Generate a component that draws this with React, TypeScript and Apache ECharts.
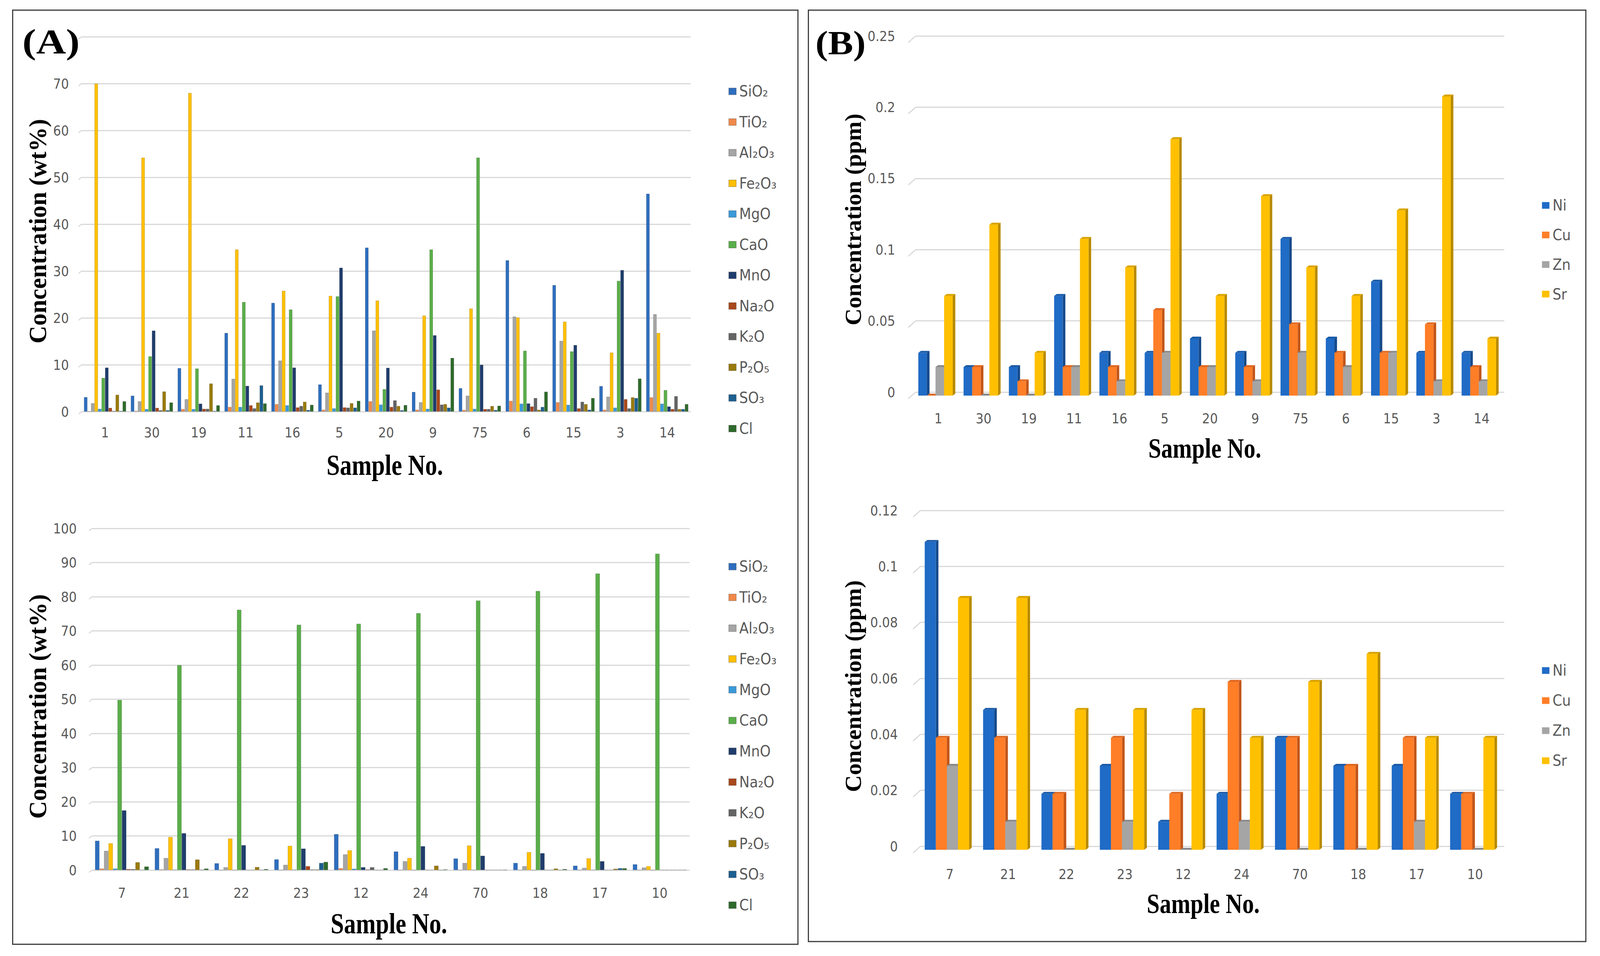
// Oxide (wt%) and trace element (ppm) concentrations per sample, four panels

import { useEffect, useRef } from 'react';
import * as echarts from 'echarts';

const SANS = "'Liberation Sans Narrow', 'DejaVu Sans Condensed', 'Open Sans', sans-serif";
const SERIF = "'Liberation Serif', 'DejaVu Serif', serif";

// ---- panel A, upper chart ----
const samplesA1 = ['1', '30', '19', '11', '16', '5', '20', '9', '75', '6', '15', '3', '14'];
const a1SiO2 = [3.1, 3.4, 9.3, 16.8, 23.2, 5.8, 35.0, 4.2, 5.0, 32.3, 27.0, 5.45, 46.5];
const a1TiO2 = [0.1, 0.15, 0.55, 1.0, 1.6, 0.4, 2.2, 0.4, 0.35, 2.3, 2.0, 0.4, 3.05];
const a1Al2O3 = [1.8, 2.2, 2.65, 7.0, 10.9, 4.05, 17.3, 2.0, 3.4, 20.3, 15.1, 3.2, 20.8];
const a1Fe2O3 = [70, 54.2, 68, 34.6, 25.8, 24.7, 23.7, 20.5, 22.0, 20.1, 19.2, 12.6, 16.8];
const a1MgO = [0.6, 0.55, 0.55, 1.0, 1.35, 0.7, 1.5, 0.6, 0.6, 1.7, 1.45, 0.85, 1.7];
const a1CaO = [7.2, 11.8, 9.2, 23.4, 21.8, 24.6, 4.8, 34.6, 54.2, 13.0, 12.85, 27.9, 4.6];
const a1MnO = [9.4, 17.3, 1.7, 5.5, 9.4, 30.7, 9.35, 16.3, 10.0, 1.75, 14.2, 30.2, 1.1];
const a1Na2O = [0.8, 0.8, 0.6, 1.35, 0.9, 0.9, 1.0, 4.7, 0.55, 1.1, 0.7, 2.65, 0.55];
const a1K2O = [0.15, 0.3, 0.6, 0.7, 1.2, 0.85, 2.4, 1.5, 0.55, 2.9, 2.1, 0.7, 3.3];
const a1P2O5 = [3.6, 4.3, 6.0, 1.95, 2.1, 1.8, 1.2, 1.6, 1.2, 0.4, 1.6, 3.05, 0.55];
const a1SO3 = [0.15, 0.3, 0.15, 5.6, 0.35, 0.85, 0.3, 0.85, 0.35, 1.0, 0.4, 2.9, 0.55];
const a1Cl = [2.2, 1.95, 1.35, 1.75, 1.45, 2.3, 1.4, 11.45, 1.25, 4.25, 2.9, 7.05, 1.6];

// ---- panel A, lower chart ----
const samplesA2 = ['7', '21', '22', '23', '12', '24', '70', '18', '17', '10'];
const a2SiO2 = [8.6, 6.4, 2.0, 3.15, 10.55, 5.45, 3.4, 2.1, 1.3, 1.7];
const a2TiO2 = [0.45, 0.2, 0.05, 0.05, 0.55, 0.05, 0.05, 0.05, 0.05, 0.05];
const a2Al2O3 = [5.65, 3.55, 0.85, 1.55, 4.6, 2.6, 2.1, 1.15, 0.65, 0.75];
const a2Fe2O3 = [7.85, 9.7, 9.25, 7.1, 5.8, 3.55, 7.2, 5.25, 3.45, 1.15];
const a2MgO = [0.45, 0.15, 0.05, 0.15, 0.4, 0.05, 0.05, 0.05, 0.05, 0.05];
const a2CaO = [49.8, 60, 76.2, 71.8, 72.1, 75.2, 78.9, 81.7, 86.8, 92.6];
const a2MnO = [17.5, 10.8, 7.3, 6.3, 0.85, 7.0, 4.2, 4.95, 2.6, 0.1];
const a2Na2O = [0.3, 0.2, 0.1, 1.15, 0.2, 0.1, 0.1, 0.1, 0.1, 0.1];
const a2K2O = [0.3, 0.2, 0.1, 0.2, 0.85, 0.1, 0.1, 0.1, 0.1, 0.1];
const a2P2O5 = [2.3, 3.1, 0.9, 0.2, 0.1, 1.3, 0.1, 0.45, 0.4, 0.1];
const a2SO3 = [0.1, 0.15, 0.05, 2.1, 0.1, 0.05, 0.1, 0.05, 0.55, 0.1];
const a2Cl = [1.05, 0.45, 0.3, 2.4, 0.55, 0.2, 0.15, 0.3, 0.55, 0.1];

// ---- panel B ----
const b1Ni = [0.03, 0.02, 0.02, 0.07, 0.03, 0.03, 0.04, 0.03, 0.11, 0.04, 0.08, 0.03, 0.03];
const b1Cu = [0, 0.02, 0.01, 0.02, 0.02, 0.06, 0.02, 0.02, 0.05, 0.03, 0.03, 0.05, 0.02];
const b1Zn = [0.02, 0, 0, 0.02, 0.01, 0.03, 0.02, 0.01, 0.03, 0.02, 0.03, 0.01, 0.01];
const b1Sr = [0.07, 0.12, 0.03, 0.11, 0.09, 0.18, 0.07, 0.14, 0.09, 0.07, 0.13, 0.21, 0.04];

const b2Ni = [0.11, 0.05, 0.02, 0.03, 0.01, 0.02, 0.04, 0.03, 0.03, 0.02];
const b2Cu = [0.04, 0.04, 0.02, 0.04, 0.02, 0.06, 0.04, 0.03, 0.04, 0.02];
const b2Zn = [0.03, 0.01, 0, 0.01, 0, 0.01, 0, 0, 0.01, 0];
const b2Sr = [0.09, 0.09, 0.05, 0.05, 0.05, 0.04, 0.06, 0.07, 0.04, 0.04];

// y ticks (for the slanted wall edges)
const ticksA1 = [0, 10, 20, 30, 40, 50, 60, 70, 80];
const ticksA2 = [0, 10, 20, 30, 40, 50, 60, 70, 80, 90, 100];
const ticksB1 = [0, 0.05, 0.1, 0.15, 0.2, 0.25];
const ticksB2 = [0, 0.02, 0.04, 0.06, 0.08, 0.1, 0.12];

const oxides = ['SiO₂', 'TiO₂', 'Al₂O₃', 'Fe₂O₃', 'MgO', 'CaO', 'MnO', 'Na₂O', 'K₂O', 'P₂O₅', 'SO₃', 'Cl'];
const oxideColors = ['#2E6EBE', '#F08A4B', '#A5A5A5', '#FFC000', '#3A9AD9', '#5AAE49',
    '#1F3D6C', '#A9481C', '#646464', '#9A7A0C', '#1D5F8F', '#2F6A2C'];
const elements = ['Ni', 'Cu', 'Zn', 'Sr'];
const elementFace = ['#1F6BC6', '#FF7E27', '#A5A5A5', '#FFC000'];
const elementSide = ['#164A8A', '#C25519', '#6E6E6E', '#B88A00'];
const elementTop = ['#1B5BA8', '#E06A22', '#8A8A8A', '#D9A300'];

const upperA = [a1SiO2, a1TiO2, a1Al2O3, a1Fe2O3, a1MgO, a1CaO, a1MnO, a1Na2O, a1K2O, a1P2O5, a1SO3, a1Cl];
const lowerA = [a2SiO2, a2TiO2, a2Al2O3, a2Fe2O3, a2MgO, a2CaO, a2MnO, a2Na2O, a2K2O, a2P2O5, a2SO3, a2Cl];
const upperB = [b1Ni, b1Cu, b1Zn, b1Sr];
const lowerB = [b2Ni, b2Cu, b2Zn, b2Sr];

// layout was measured on a 4295 x 2448 page
const REF_W = 4295;
const REF_H = 2448;

export default function App() {
    const chartRef = useRef<HTMLDivElement>(null);

    useEffect(() => {
        if (!chartRef.current) return;
        document.body.style.margin = '0';
        document.body.style.overflow = 'hidden';

        const el = chartRef.current;
        const W = el.clientWidth || REF_W;
        const H = el.clientHeight || REF_H;
        const sx = W / REF_W;
        const sy = H / REF_H;
        const s = Math.min(sx, sy);
        const X = (v: number) => v * sx;
        const Y = (v: number) => v * sy;
        const F = (v: number) => v * s;

        const chart = echarts.init(el, null, { renderer: 'svg' });

        const tickLabel = { fontSize: F(37), color: '#595959', fontFamily: SANS };

        // excel-like 3D column: front face, right side and top
        const column3D = (k: number, count: number, frac: number) => (params: any, api: any) => {
            const ci = api.value(0);
            const v = api.value(1);
            const p0 = api.coord([ci, 0]);
            const p1 = api.coord([ci, v]);
            const band = api.size([1, 0])[0];
            const w = band * frac;
            const dx = X(7);
            const dy = Y(5);
            const drop = Y(9);
            const x0 = p0[0] - (count * w + dx) / 2 + k * w - X(4);
            const yb = p0[1] + drop;
            const yt = p1[1] + drop;
            return {
                type: 'group',
                children: [
                    {
                        type: 'polygon',
                        shape: { points: [[x0 + w, yt], [x0 + w + dx, yt - dy], [x0 + w + dx, yb - dy], [x0 + w, yb]] },
                        style: { fill: elementSide[k] },
                    },
                    {
                        type: 'polygon',
                        shape: { points: [[x0, yt], [x0 + dx, yt - dy], [x0 + w + dx, yt - dy], [x0 + w, yt]] },
                        style: { fill: elementTop[k] },
                    },
                    {
                        type: 'rect',
                        shape: { x: x0, y: yt, width: w, height: yb - yt },
                        style: { fill: elementFace[k] },
                    },
                ],
            };
        };

        // short slanted segment at the left end of each gridline
        const wallEdges = (grid: number, ticks: number[], dx: number, dy: number) => ({
            type: 'custom',
            name: 'wall' + grid,
            xAxisIndex: grid,
            yAxisIndex: grid,
            silent: true,
            encode: { x: 0, y: 1 },
            data: ticks.map((t) => [0, t]),
            renderItem: (params: any, api: any) => {
                const p = api.coord([0, api.value(1)]);
                const x = p[0] - api.size([1, 0])[0] / 2;
                return {
                    type: 'line',
                    shape: { x1: x, y1: p[1], x2: x - X(dx), y2: p[1] + Y(dy) },
                    style: { stroke: '#D9D9D9', lineWidth: F(3) },
                };
            },
        });

        const legendAt = (left: number, top: number, pitch: number, names: string[]) => ({
            orient: 'vertical',
            left: X(left),
            top: Y(top),
            icon: 'rect',
            itemWidth: F(20),
            itemHeight: F(18),
            itemGap: Y(pitch) - F(44),
            selectedMode: false,
            data: names,
            textStyle: { fontSize: F(41), lineHeight: F(44), color: '#595959', fontFamily: SANS, padding: [0, 0, 0, F(3)] },
        });

        const titleText = (x: number, y: number, text: string, size: number, opts: any = {}) => ({
            type: 'text',
            x: X(x),
            y: Y(y),
            rotation: opts.vertical ? Math.PI / 2 : 0,
            scaleX: opts.scaleX || 1,
            scaleY: opts.scaleY || 1,
            style: {
                text,
                fontSize: F(size),
                fontWeight: 'bold',
                fontFamily: SERIF,
                fill: '#000',
                align: opts.align || 'center',
                verticalAlign: 'middle',
            },
        });

        const catAxis = (grid: number, data: string[], margin: number) => ({
            type: 'category',
            gridIndex: grid,
            data,
            axisLine: { show: false },
            axisTick: { show: false },
            axisLabel: { ...tickLabel, margin: Y(margin) },
        });
        const valAxis = (grid: number, max: number, interval: number, margin: number, extra: any = {}) => ({
            type: 'value',
            gridIndex: grid,
            min: 0,
            max,
            interval,
            axisLine: { show: false },
            axisTick: { show: false },
            splitLine: { lineStyle: { color: '#D9D9D9', width: F(3) } },
            axisLabel: { ...tickLabel, margin: X(margin), ...extra },
        });

        const barSeries = (grid: number, values: number[][]) =>
            values.map((data, k) => ({
                type: 'bar',
                name: oxides[k],
                xAxisIndex: grid,
                yAxisIndex: grid,
                data,
                barGap: '0%',
                barCategoryGap: '10%',
                itemStyle: { color: oxideColors[k], borderColor: 'rgba(0,0,0,0.22)', borderWidth: 1 },
            }));

        const columnSeries = (grid: number, values: number[][]) =>
            values.map((vals, k) => ({
                type: 'custom',
                name: elements[k],
                xAxisIndex: grid,
                yAxisIndex: grid,
                itemStyle: { color: elementFace[k] },
                encode: { x: 0, y: 1 },
                data: vals.map((v, i) => [i, v]),
                renderItem: column3D(k, values.length, 0.19),
            }));

        const box = (x: number, y: number, w: number, h: number) => ({
            type: 'rect',
            shape: { x: X(x), y: Y(y), width: X(w), height: Y(h) },
            style: { fill: 'none', stroke: '#3a3a3a', lineWidth: F(3) },
        });

        const option: any = {
            animation: false,
            backgroundColor: '#ffffff',
            grid: [
                { left: X(219), top: Y(94), width: X(1635), height: Y(960) },
                { left: X(247), top: Y(1353), width: X(1604), height: Y(875) },
                { left: X(2458), top: Y(92), width: X(1580), height: Y(912) },
                { left: X(2471), top: Y(1307), width: X(1567), height: Y(860) },
            ],
            xAxis: [
                catAxis(0, samplesA1, 36),
                catAxis(1, samplesA2, 41),
                catAxis(2, samplesA1, 50),
                catAxis(3, samplesA2, 54),
            ],
            yAxis: [
                valAxis(0, 80, 10, 34, { showMaxLabel: false }),
                valAxis(1, 100, 10, 41),
                valAxis(2, 0.25, 0.05, 55, { padding: [Y(30), 0, 0, 0] }),
                valAxis(3, 0.12, 0.02, 61, { padding: [Y(38), 0, 0, 0] }),
            ],
            legend: [
                legendAt(1950, 208, 78.5, oxides),
                legendAt(1950, 1425, 78.8, oxides),
                legendAt(4134, 500, 75.7, elements),
                legendAt(4134, 1691, 77, elements),
            ],
            graphic: [
                box(34, 26, 2108, 2392),
                box(2170, 26, 2087, 2385),
                titleText(60, 106, '(A)', 94, { align: 'left', scaleX: 1.18 }),
                titleText(2189, 110, '(B)', 92, { align: 'left', scaleX: 1.1 }),
                titleText(102, 592, 'Concentration (wt%)', 66, { vertical: true }),
                titleText(102, 1809, 'Concentration (wt%)', 66, { vertical: true }),
                titleText(2290, 562, 'Concentration (ppm)', 63, { vertical: true }),
                titleText(2290, 1757, 'Concentration (ppm)', 63, { vertical: true }),
                titleText(1033, 1192, 'Sample No.', 64, { scaleY: 1.2 }),
                titleText(1044, 2366, 'Sample No.', 64, { scaleY: 1.2 }),
                titleText(3234, 1148, 'Sample No.', 62, { scaleY: 1.2 }),
                titleText(3230, 2314, 'Sample No.', 62, { scaleY: 1.2 }),
            ],
            series: [
                wallEdges(0, ticksA1, 8, 6),
                wallEdges(1, ticksA2, 8, 6),
                wallEdges(2, ticksB1, 20, 17),
                wallEdges(3, ticksB2, 20, 17),
                ...barSeries(0, upperA),
                ...barSeries(1, lowerA),
                ...columnSeries(2, upperB),
                ...columnSeries(3, lowerB),
            ],
        };

        chart.setOption(option, { notMerge: true });

        return () => {
            chart.dispose();
        };
    }, []);

    return (
        <div
            ref={chartRef}
            style={{ position: 'fixed', left: 0, top: 0, width: '100vw', height: '100vh' }}
        />
    );
}
